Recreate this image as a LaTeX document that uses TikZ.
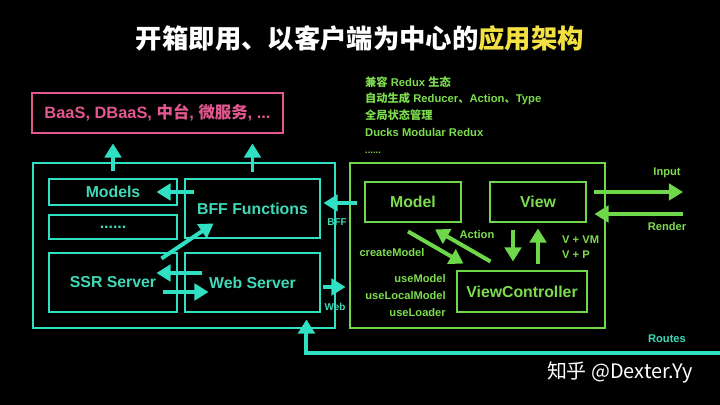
\documentclass[tikz,border=0pt]{standalone}
\usepackage{fontspec}
\setmainfont{Liberation Sans}
\newfontfamily\cjk{Noto Sans CJK SC}
\usetikzlibrary{arrows.meta,calc}

\definecolor{cyanline}{HTML}{30E0C2}
\definecolor{cyantext}{HTML}{3FD9B8}
\definecolor{pinkline}{HTML}{E2588E}
\definecolor{greenline}{HTML}{6FD84A}
\definecolor{greentext}{HTML}{7CDC4E}
\definecolor{titleyellow}{HTML}{F3E042}

\def\pxu{0.03cm}

\tikzset{
  cbox/.style={draw=cyanline, line width=2.5pt, text=cyantext, inner sep=0pt,
    font=\bfseries\fontsize{13.5}{16}\selectfont},
  gbox/.style={draw=greenline, line width=2.5pt, text=greentext, inner sep=0pt,
    font=\bfseries\fontsize{13.5}{16}\selectfont},
  carr/.style={draw=cyanline, line width=3.4pt, -{Triangle[length=12pt,width=14pt]}},
  garr/.style={draw=greenline, line width=3.4pt, -{Triangle[length=12pt,width=14pt]}},
  clabel/.style={text=cyantext, font=\bfseries\fontsize{8.5}{10}\selectfont, inner sep=0pt},
  glabel/.style={text=greentext, font=\bfseries\fontsize{9.5}{11}\selectfont, inner sep=0pt}
}

\begin{document}
\begin{tikzpicture}[x=\pxu, y=-\pxu]
  \fill[black] (0,0) rectangle (720,405);
  \useasboundingbox (0,0) rectangle (720,405);

  % title
  \node[text=white, font=\cjk\bfseries\fontsize{22.5}{26}\selectfont] (title) at (360,38)
    {开箱即用、以客户端为中心的\textcolor{titleyellow}{应用架构}};

  % backend side
  \node[draw=pinkline, line width=2.5pt, text=pinkline, inner sep=0pt,
    minimum width=251*\pxu, minimum height=40*\pxu,
    font=\bfseries\fontsize{14}{16}\selectfont] (backend) at (157.5,113)
    {BaaS, DBaaS, {\cjk\bfseries 中台}, {\cjk\bfseries 微服务}, ...};

  \node[cbox, minimum width=302*\pxu, minimum height=165*\pxu] (server) at (184,245.5) {};
  \node[cbox, minimum width=128*\pxu, minimum height=26*\pxu] (models) at (113,192) {Models};
  \node[cbox, minimum width=128*\pxu, minimum height=24*\pxu] (more) at (113,227) {......};
  \node[cbox, minimum width=128*\pxu, minimum height=59*\pxu] (ssr) at (113,282.5) {SSR Server};
  \node[cbox, minimum width=135*\pxu, minimum height=59*\pxu] (bff) at (252.5,208.5) {BFF Functions};
  \node[cbox, minimum width=135*\pxu, minimum height=59*\pxu] (web) at (252.5,282.5) {Web Server};

  % client side
  \node[gbox, minimum width=255*\pxu, minimum height=165*\pxu] (client) at (477.5,245.5) {};
  \node[gbox, minimum width=96*\pxu, minimum height=40*\pxu] (model) at (413,202) {Model};
  \node[gbox, minimum width=96*\pxu, minimum height=40*\pxu] (view) at (538,202) {View};
  \node[gbox, minimum width=130*\pxu, minimum height=41*\pxu] (vc) at (522,291.5) {ViewController};

  \node[text=greentext, anchor=north west, align=left, inner sep=0pt,
    font=\bfseries\fontsize{9.6}{14.3}\selectfont] (notes) at (365,76)
    {{\cjk\bfseries 兼容} Redux {\cjk\bfseries 生态}\\
     {\cjk\bfseries 自动生成} Reducer{\cjk\bfseries 、}Action{\cjk\bfseries 、}Type\\
     {\cjk\bfseries 全局状态管理}\\
     Ducks Modular Redux\\
     {\fontsize{8}{8}\selectfont ......}};

  % cyan arrows
  \draw[carr] ($(models.north)+(0,-7)$) -- ($(models.north |- backend.south)+(0,9)$);
  \draw[carr] ($(bff.north)+(0,-6)$) -- ($(bff.north |- backend.south)+(0,9)$);
  \draw[carr] ($(bff.west |- models.east)+(10,0)$) -- ($(models.east)+(-22,0)$);
  \draw[carr] ($(ssr.north east)+(-17,7)$) -- ($(bff.south west)+(30,-16)$);
  \draw[carr] ($(web.west)+(18,-9.5)$) -- ($(ssr.east)+(-22,-9.5)$);
  \draw[carr] ($(ssr.east)+(-15,9.5)$) -- ($(web.west)+(25,9.5)$);
  \draw[carr] ($(client.west |- bff.east)+(8,-5.5)$) -- ($(bff.east)+(2,-5.5)$);
  \draw[carr] ($(web.east)+(2,4.5)$) -- ($(client.west |- web.east)+(-3,4.5)$);
  \node[clabel] (bfflabel) at (337,222) {BFF};
  \node[clabel] (weblabel) at (335,307) {Web};

  \coordinate (routesin) at (720,353);
  \draw[carr] (routesin) -| ($(web.south east)+(-15,6)$);
  \node[clabel, font=\bfseries\fontsize{9.5}{11}\selectfont] (routes) at (667,339) {Routes};

  % green arrows
  \draw[garr] ($(model.south)+(-5,8)$) -- ($(vc.north west)+(8,-6)$);
  \draw[garr] ($(vc.north west)+(35,-8)$) -- ($(model.south)+(22,6)$);
  \draw[garr] ($(view.south)+(-25,7)$) -- ($(vc.north)+(-9,-8)$);
  \draw[garr] ($(vc.north)+(16,-6)$) -- ($(view.south)+(0,5)$);

  \coordinate (io) at (683,202);
  \draw[garr] ($(view.east)+(7,-10)$) -- ($(io)+(0,-10)$);
  \draw[garr] ($(io)+(0,12)$) -- ($(view.east)+(7,12)$);

  \node[glabel] (action) at (477,235) {Action};
  \node[glabel] (input) at (667,173) {Input};
  \node[glabel] (render) at (667,227) {Render};
  \node[glabel, anchor=west] (vvm) at (562,240) {V + VM};
  \node[glabel, anchor=west] (vp) at (562,255) {V + P};
  \node[glabel] (create) at (392,253) {createModel};
  \node[glabel, anchor=east, align=right, font=\bfseries\fontsize{9.5}{14.5}\selectfont]
    (hooks) at (446,295.5) {useModel\\useLocalModel\\useLoader};

  % watermark
  \node[text=white, font=\cjk\fontsize{17}{20}\selectfont] (mark) at (620,372) {知乎 @Dexter.Yy};
\end{tikzpicture}
\end{document}
